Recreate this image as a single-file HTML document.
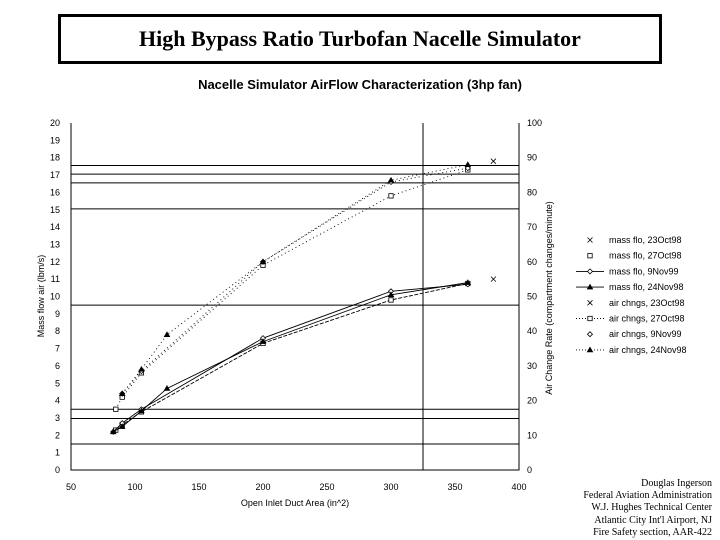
<!DOCTYPE html>
<html><head><meta charset="utf-8"><style>
body{margin:0;width:720px;height:540px;background:#fff;overflow:hidden;position:relative;font-family:"Liberation Sans",sans-serif}
#tb{position:absolute;left:58px;top:14px;width:598px;height:44px;border:3px solid #000;text-align:center;font:bold 22px "Liberation Serif",serif;line-height:44px}
#credit{position:absolute;right:8px;top:478px;text-align:right;font:10px "Liberation Serif",serif;line-height:12.2px}
</style></head><body>
<div id="tb">High Bypass Ratio Turbofan Nacelle Simulator</div>
<svg id="chart" width="720" height="540" style="position:absolute;left:0;top:0"></svg>
<div id="credit">Douglas Ingerson<br>Federal Aviation Administration<br>W.J. Hughes Technical Center<br>Atlantic City Int'l Airport, NJ<br>Fire Safety section, AAR-422</div>
<script>
const xTicks=[50,100,150,200,250,300,350,400];
const yLeftTicks=[0,1,2,3,4,5,6,7,8,9,10,11,12,13,14,15,16,17,18,19,20];
const yRightTicks=[0,10,20,30,40,50,60,70,80,90,100];
const hLines=[17.55,17.05,16.55,15.05,9.5,3.5,2.97,1.5];
const vLines=[325];
const mf23x=[380], mf23y=[11.0];
const mf27x=[85,90,105,200,300,360], mf27y=[2.3,2.6,3.35,7.3,9.8,10.75];
const mf9x=[83,90,105,200,300,360], mf9y=[2.2,2.7,3.5,7.6,10.3,10.7];
const mf24x=[83,90,105,125,200,300,360], mf24y=[2.2,2.5,3.4,4.7,7.4,10.1,10.8];
const ac23x=[380], ac23y=[89];
const ac27x=[85,90,105,200,300,360], ac27y=[17.5,21,28,59,79,86.5];
const ac9x=[90,105,200,300,360], ac9y=[22,28.5,60,83,87];
const ac24x=[90,105,125,200,300,360], ac24y=[22,29,39,60,83.5,88];
const svg=document.getElementById('chart');const NS='http://www.w3.org/2000/svg';
const X0=71,X1=519,Y0=470,Y1=123;
const sx=v=>X0+(v-50)/350*(X1-X0);
const syL=v=>Y0-v/20*(Y0-Y1);
const syR=v=>Y0-v/100*(Y0-Y1);
function el(t,a,p){const e=document.createElementNS(NS,t);for(const k in a)e.setAttribute(k,a[k]);(p||svg).appendChild(e);return e;}
function txt(s,x,y,a,name){const t=el('text',Object.assign({x:x,y:y,'font-size':9,'font-family':'Liberation Sans, sans-serif'},a||{}));t.textContent=s;


return t;}
let t=txt('Nacelle Simulator AirFlow Characterization (3hp fan)',360,89,{'text-anchor':'middle','font-size':13,'font-weight':'bold'},'chart-title');
let ax=el('path',{d:`M${X0},${Y1}V${Y0}H${X1}V${Y1}`,stroke:'#000',fill:'none','stroke-width':1});


xTicks.forEach(v=>txt(String(v),sx(v),490,{'text-anchor':'middle'},'x-tick-label'));
yLeftTicks.forEach(v=>txt(String(v),60,syL(v)+3,{'text-anchor':'end'},'y-left-tick-label'));
yRightTicks.forEach(v=>txt(String(v),527,syR(v)+3,{},'y-right-tick-label'));
hLines.forEach(v=>{const l=el('line',{x1:X0,x2:X1,y1:syL(v),y2:syL(v),stroke:'#000','stroke-width':1});

});
vLines.forEach(v=>{const l=el('line',{x1:sx(v),x2:sx(v),y1:Y1,y2:Y0,stroke:'#000','stroke-width':1});

});
txt('Open Inlet Duct Area (in^2)',295,506,{'text-anchor':'middle'},'x-axis-title');
txt('Mass flow air (lbm/s)',44,296,{'text-anchor':'middle',transform:'rotate(-90 44 296)'},'y-left-axis-title');
txt('Air Change Rate (compartment changes/minute)',552,298,{'text-anchor':'middle',transform:'rotate(-90 552 298)'},'y-right-axis-title');
function marker(type,x,y,g){
 if(type==='x'){el('path',{d:`M${x-2.5},${y-2.5}L${x+2.5},${y+2.5}M${x-2.5},${y+2.5}L${x+2.5},${y-2.5}`,stroke:'#000','stroke-width':0.8},g);}
 else if(type==='s'){el('rect',{x:x-2.2,y:y-2.2,width:4.4,height:4.4,fill:'#fff',stroke:'#000','stroke-width':0.8},g);}
 else if(type==='d'){el('path',{d:`M${x},${y-2.5}L${x+2.5},${y}L${x},${y+2.5}L${x-2.5},${y}Z`,fill:'#fff',stroke:'#000','stroke-width':0.8},g);}
 else if(type==='t'){el('path',{d:`M${x},${y-2.8}L${x+2.8},${y+2}L${x-2.8},${y+2}Z`,fill:'#000',stroke:'#000','stroke-width':0.6},g);}
}
function series(name,xs,ys,sy,mk,dash,line){
 const g=el('g',{});
 
 
 if(line){const pts=xs.map((x,i)=>sx(x)+','+sy(ys[i])).join(' ');
  el('polyline',{points:pts,fill:'none',stroke:'#000','stroke-width':0.9,'stroke-dasharray':dash||'none'},g);}
 xs.forEach((x,i)=>marker(mk,sx(x),sy(ys[i]),g));
}
series('mass-flo-23oct98',mf23x,mf23y,syL,'x',null,false);
series('mass-flo-27oct98',mf27x,mf27y,syL,'s','4,1.5',true);
series('mass-flo-9nov99',mf9x,mf9y,syL,'d',null,true);
series('mass-flo-24nov98',mf24x,mf24y,syL,'t',null,true);
series('air-chngs-23oct98',ac23x,ac23y,syR,'x',null,false);
series('air-chngs-27oct98',ac27x,ac27y,syR,'s','1,3',true);
series('air-chngs-9nov99',ac9x,ac9y,syR,'d','1,3',true);
series('air-chngs-24nov98',ac24x,ac24y,syR,'t','1,3',true);
const legNames=['mass flo, 23Oct98','mass flo, 27Oct98','mass flo, 9Nov99','mass flo, 24Nov98','air chngs, 23Oct98','air chngs, 27Oct98','air chngs, 9Nov99','air chngs, 24Nov98'];
const legMk=['x','s','d','t','x','s','d','t'];
const legLine=[null,null,'none','none',null,'1,2',null,'1,2'];
legNames.forEach((n,i)=>{const y=240+i*15.7;const g=el('g',{});
 
 
 if(legLine[i]!==null)el('line',{x1:576,x2:604,y1:y,y2:y,stroke:'#000','stroke-width':0.9,'stroke-dasharray':legLine[i]},g);
 marker(legMk[i],590,y,g);
 const t=el('text',{x:609,y:y+3,'font-size':9,'font-family':'Liberation Sans, sans-serif'},g);t.textContent=n;});
</script>
</body></html>
